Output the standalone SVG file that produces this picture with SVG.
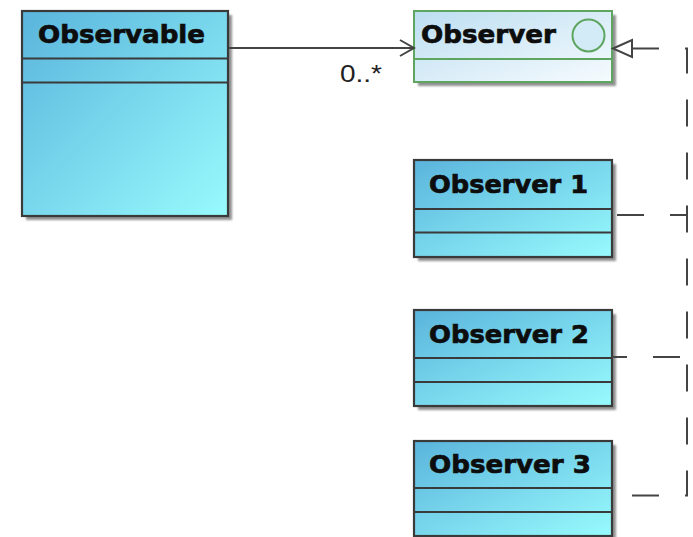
<svg xmlns="http://www.w3.org/2000/svg" width="693" height="537" viewBox="0 0 693 537">
  <defs>
    <linearGradient id="gClass" x1="0" y1="0" x2="1" y2="1">
      <stop offset="0" stop-color="#5ab4dc"/>
      <stop offset="1" stop-color="#98fbfd"/>
    </linearGradient>
    <linearGradient id="gIface" x1="0" y1="0" x2="1" y2="1">
      <stop offset="0" stop-color="#bcdef1"/>
      <stop offset="1" stop-color="#f6fbfe"/>
    </linearGradient>
    <filter id="soft" x="-10%" y="-10%" width="130%" height="130%">
      <feGaussianBlur stdDeviation="1"/>
    </filter>
  </defs>
  <style>
    .shadow { fill: #858585; opacity: 0.9; filter: url(#soft); }
    .cls { fill: url(#gClass); stroke: #3a3a3a; stroke-width: 2.2; }
    .iface { fill: url(#gIface); stroke: #5ea65f; stroke-width: 2; }
    .div { stroke: #3a3a3a; stroke-width: 2.2; }
    .idiv { stroke: #5ea65f; stroke-width: 2; }
    .title { font-family: "DejaVu Sans", Verdana, sans-serif; font-weight: bold; font-size: 25px; fill: #0d0d0d; stroke: #0d0d0d; stroke-width: 0.7; }
    .mult { font-family: "Liberation Sans", Arial, sans-serif; font-size: 24px; fill: #222; }
    .line { fill: none; stroke: #444; stroke-width: 2; }
    .dash { fill: none; stroke: #444; stroke-width: 2; stroke-dasharray: 27 26; }
  </style>

  <!-- Observable class -->
  <g id="observable">
    <rect class="shadow" x="26" y="15" width="206" height="205"/>
    <rect class="cls" x="22" y="11" width="206" height="205"/>
    <line class="div" x1="22" y1="58.5" x2="228" y2="58.5"/>
    <line class="div" x1="22" y1="82.5" x2="228" y2="82.5"/>
    <text class="title" x="38" y="43" textLength="167" lengthAdjust="spacingAndGlyphs">Observable</text>
  </g>

  <!-- Observer interface -->
  <g id="observer">
    <rect class="shadow" x="418" y="15" width="198" height="71"/>
    <rect class="iface" x="414" y="11" width="198" height="71"/>
    <line class="idiv" x1="414" y1="59" x2="612" y2="59"/>
    <circle cx="588.5" cy="35.5" r="16" fill="#d2ebf6" stroke="#5ea65f" stroke-width="2"/>
    <text class="title" x="421" y="43" textLength="135" lengthAdjust="spacingAndGlyphs">Observer</text>
  </g>

  <!-- Concrete observers -->
  <g id="observer1">
    <rect class="shadow" x="418" y="164" width="198" height="97"/>
    <rect class="cls" x="414" y="160" width="198" height="97"/>
    <line class="div" x1="414" y1="209" x2="612" y2="209"/>
    <line class="div" x1="414" y1="232.5" x2="612" y2="232.5"/>
    <text class="title" x="429" y="193" textLength="159" lengthAdjust="spacingAndGlyphs">Observer 1</text>
  </g>

  <g id="observer2">
    <rect class="shadow" x="418" y="314" width="198" height="96"/>
    <rect class="cls" x="414" y="310" width="198" height="96"/>
    <line class="div" x1="414" y1="358" x2="612" y2="358"/>
    <line class="div" x1="414" y1="382" x2="612" y2="382"/>
    <text class="title" x="429" y="343" textLength="160" lengthAdjust="spacingAndGlyphs">Observer 2</text>
  </g>

  <g id="observer3">
    <rect class="shadow" x="418" y="445" width="198" height="95"/>
    <rect class="cls" x="414" y="441" width="198" height="95"/>
    <line class="div" x1="414" y1="488" x2="612" y2="488"/>
    <line class="div" x1="414" y1="512" x2="612" y2="512"/>
    <text class="title" x="429" y="473" textLength="162" lengthAdjust="spacingAndGlyphs">Observer 3</text>
  </g>

  <!-- Connectors -->
  <g id="connectors">
    <!-- association Observable -> Observer, multiplicity at the target end -->
    <line class="line" x1="229" y1="48" x2="413" y2="48"/>
    <polyline class="line" points="400,40 414,48 400,56"/>
    <text class="mult" x="340" y="82" textLength="42" lengthAdjust="spacingAndGlyphs">0..*</text>

    <!-- realizations into Observer (shared right-hand rail) -->
    <path class="dash" stroke-dashoffset="33" d="M612,495.5 H687 V48.5 H632"/>
    <path class="dash" stroke-dashoffset="48" d="M612,215 H687"/>
    <path class="dash" stroke-dashoffset="12" d="M612,357 H687"/>
    <polygon points="613,48.5 632,40 632,57" fill="#fff" stroke="#444" stroke-width="2" stroke-linejoin="miter"/>
  </g>
</svg>
